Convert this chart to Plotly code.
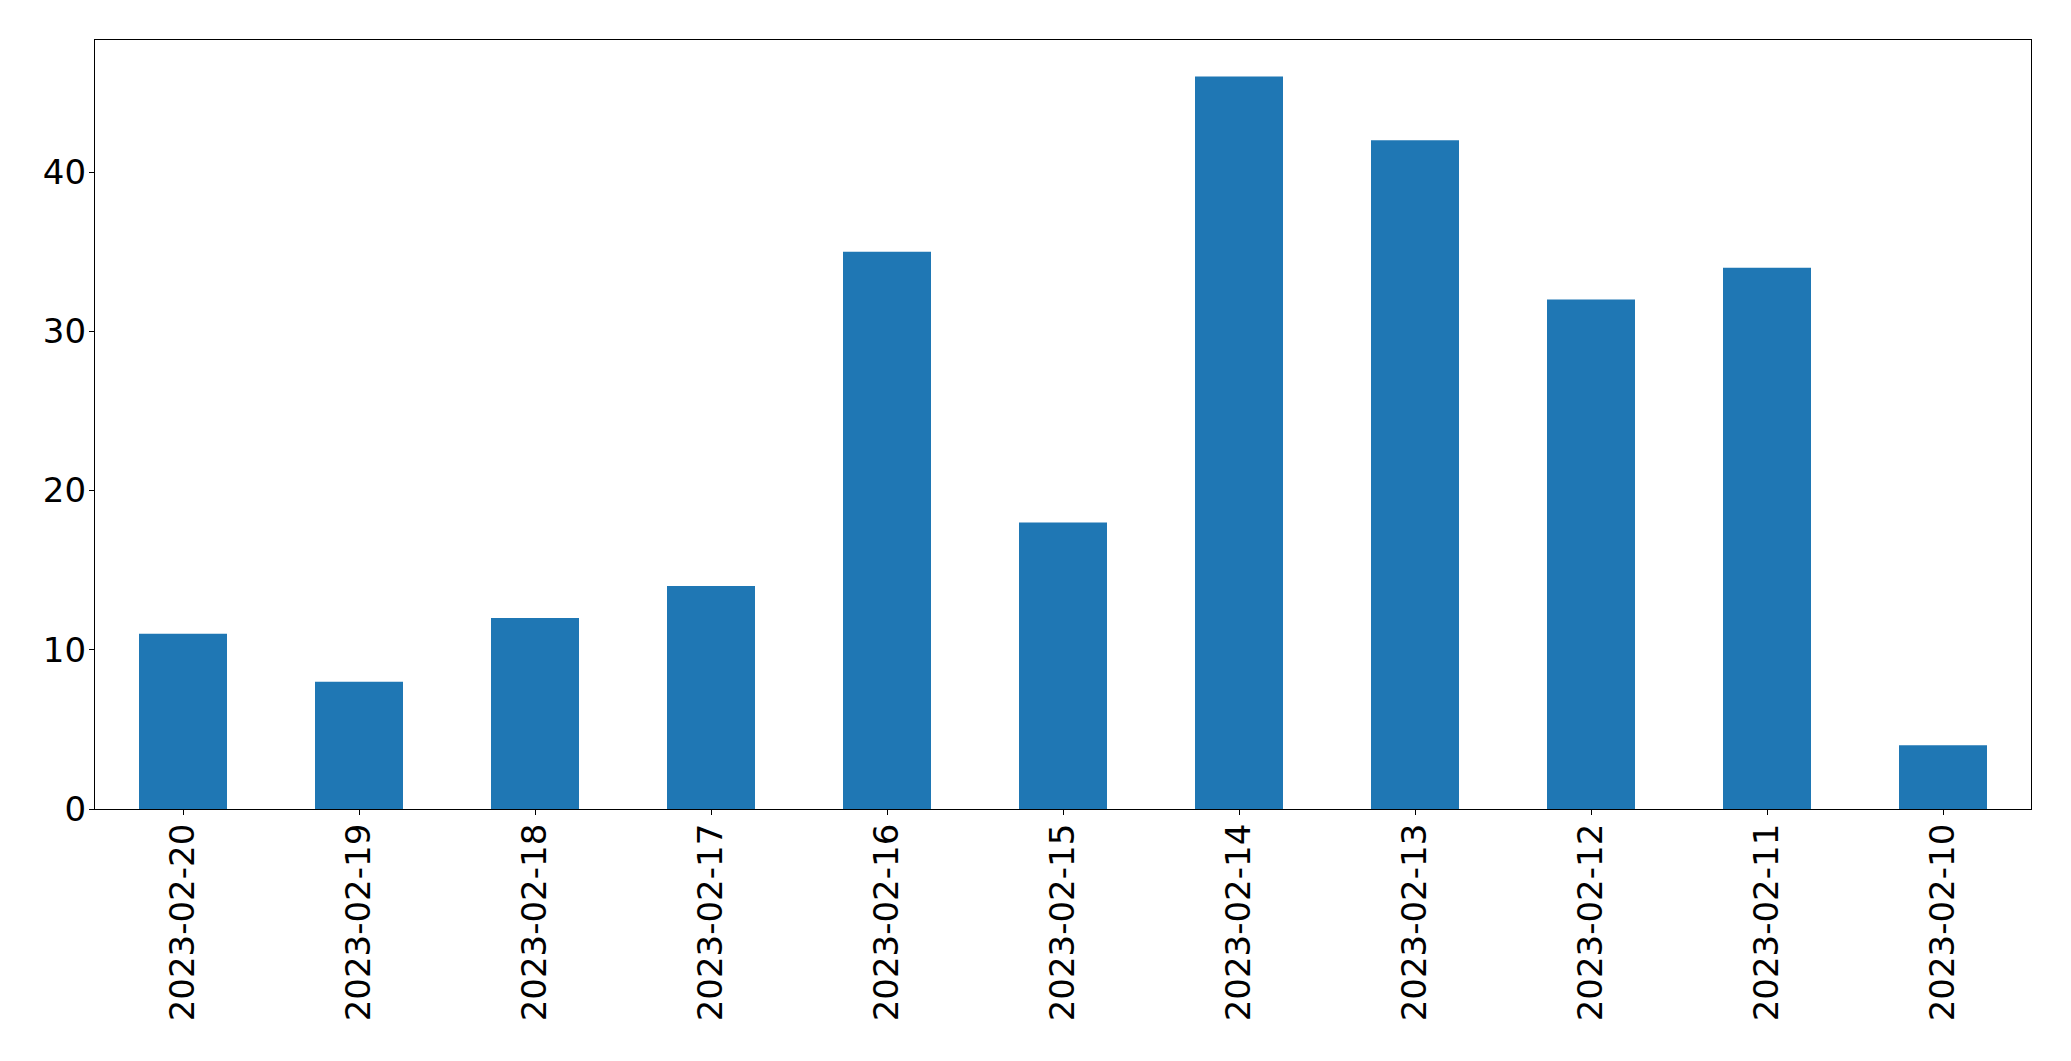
import plotly.graph_objects as go

dates = ["2023-02-20", "2023-02-19", "2023-02-18", "2023-02-17", "2023-02-16",
         "2023-02-15", "2023-02-14", "2023-02-13", "2023-02-12", "2023-02-11", "2023-02-10"]
counts = [11, 8, 12, 14, 35, 18, 46, 42, 32, 34, 4]
y_ticks = [0, 10, 20, 30, 40]

fig = go.Figure(go.Bar(x=dates, y=counts, marker=dict(color="#1f77b4", line=dict(width=0))))

fig.update_layout(
    width=2063, height=1053,
    margin=dict(l=86.5, r=39.5, t=31.5, b=252, pad=0),
    paper_bgcolor="white", plot_bgcolor="white",
    bargap=0.5, showlegend=False,
    font=dict(family="DejaVu Sans", size=34, color="black"),
)
fig.update_xaxes(
    type="category", range=[-0.5, len(dates) - 0.5],
    tickangle=-90, ticks="outside", ticklen=5, tickwidth=1.3, tickcolor="black",
    showline=True, linecolor="black", linewidth=1.3, mirror=True,
    showgrid=False, zeroline=False, ticklabelstandoff=-5,
)
fig.update_yaxes(
    range=[0, 46 * 1.05], tickvals=y_ticks, ticktext=[str(v) for v in y_ticks],
    ticks="outside", ticklen=5, tickwidth=1.3, tickcolor="black",
    showline=True, linecolor="black", linewidth=1.3, mirror=True,
    showgrid=False, zeroline=False, ticklabelstandoff=-4,
)

fig.write_html("out.html")
